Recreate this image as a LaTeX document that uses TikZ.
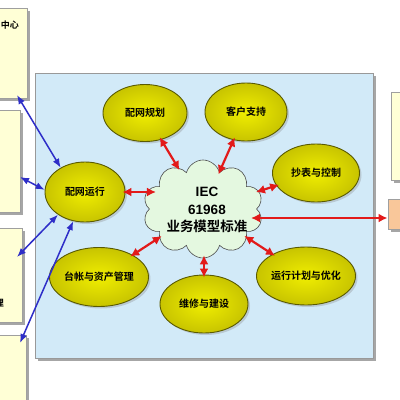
\documentclass[tikz,border=0pt]{standalone}
\usepackage{fontspec}
\setmainfont{Liberation Sans}
\newfontfamily\cjk{Noto Sans CJK SC}[BoldFont={Noto Sans CJK SC Bold}]
\usetikzlibrary{shapes.geometric,shapes.symbols,arrows.meta,shadows,calc}
\definecolor{panelblue}{HTML}{D2EAF8}
\definecolor{boxyellow}{HTML}{FFFFD6}
\definecolor{ellfill}{HTML}{C8C400}
\definecolor{ellin}{HTML}{F0EE00}
\definecolor{ellline}{HTML}{5A5A00}
\definecolor{cloudfill}{HTML}{E4F8E0}
\definecolor{arrred}{HTML}{E21A1A}
\definecolor{arrblue}{HTML}{2E2EC8}
\definecolor{orangebox}{HTML}{F9C79A}
\tikzset{
  ellnode/.style={ellipse, draw=ellline, line width=0.9pt, inner color=ellin, outer color=ellfill,
    drop shadow={shadow xshift=2pt, shadow yshift=-2pt, opacity=0.3},
    font=\cjk\bfseries\fontsize{10}{12}\selectfont, inner sep=0pt},
  sidebox/.style={rectangle, draw=gray!75, line width=1pt, fill=boxyellow,
    drop shadow={shadow xshift=3pt, shadow yshift=-3pt, fill=gray!70, opacity=1}, inner sep=0pt},
  redarr/.style={draw=arrred, line width=2.2pt, {Latex[length=9pt,width=9pt]}-{Latex[length=9pt,width=9pt]},
    shorten <=-3pt, shorten >=-3pt},
  bluearr/.style={draw=arrblue, line width=1.5pt, {Latex[length=9pt,width=7pt]}-{Latex[length=9pt,width=7pt]}},
  lefttext/.style={font=\cjk\bfseries\fontsize{9}{11}\selectfont, anchor=east, inner sep=0pt}
}
\begin{document}
\begin{tikzpicture}[x=1pt,y=-1pt]
\fill[white] (0,0) rectangle (400,400);
\useasboundingbox (0,0) rectangle (400,400);
% panel
\node[rectangle, draw=gray!80, line width=1pt, fill=panelblue,
  drop shadow={shadow xshift=3pt, shadow yshift=-3pt, fill=gray!70, opacity=1},
  minimum width=338pt, minimum height=285pt, inner sep=0pt] (panel) at (204,215.5) {};
% left boxes
\node[sidebox, minimum width=32pt, minimum height=90pt] (b1) at (11,53) {};
\node[sidebox, minimum width=30pt, minimum height=102pt] (b2) at (5,161) {};
\node[sidebox, minimum width=32pt, minimum height=94pt] (b3) at (6,275) {};
\node[sidebox, minimum width=34pt, minimum height=74pt] (b4) at (9,372) {};
\node[lefttext] (l1) at (19,25) {中心};
\node[lefttext] (l3) at (4,303) {管理};
% right boxes
\node[sidebox, minimum width=24pt, minimum height=88pt] (ry) at (403,136) {};
\node[sidebox, fill=orangebox, minimum width=27pt, minimum height=30pt] (org) at (401.5,214) {};
% ellipses
\node[ellnode, minimum width=84pt, minimum height=57pt] (plan) at (145,113) {配网规划};
\node[ellnode, minimum width=82pt, minimum height=58pt] (cust) at (246,112) {客户支持};
\node[ellnode, minimum width=87pt, minimum height=58pt] (meter) at (316,173) {抄表与控制};
\node[ellnode, minimum width=80pt, minimum height=60pt] (ops) at (85,192) {配网运行};
\node[ellnode, minimum width=88pt, minimum height=59pt] (asset) at (99,277) {台帐与资产管理};
\node[ellnode, minimum width=88pt, minimum height=58pt] (rep) at (204,304) {维修与建设};
\node[ellnode, minimum width=88pt, minimum height=58pt] (sched) at (306,276) {运行计划与优化};
% cloud
\node[cloud, cloud puffs=10, aspect=1.25, draw=gray!60!black, fill=cloudfill, line width=0.6pt,
  minimum width=120pt, minimum height=98pt, inner sep=0pt] (std) at (203,209) {};
\node[align=center, font=\bfseries\fontsize{13.5}{17.5}\selectfont, inner sep=0pt] (stdtxt) at (207,210)
  {IEC\\61968\\{\cjk\bfseries 业务模型标准}};
% red arrows
\draw[redarr] (plan) -- (std);
\draw[redarr] (cust) -- (std);
\draw[redarr] (meter) -- (std);
\draw[redarr] (asset) -- (std);
\draw[redarr] (sched) -- (std);
\draw[redarr] (rep.north) -- (rep.north |- std.south);
\coordinate (oe) at ($(ops.east -| std.west)+(4,0)$);
\draw[redarr] (ops.east) -- (oe);
\coordinate (hs) at ($(std.east)+(-3,9)$);
\draw[redarr, shorten >=0pt] (hs) -- (hs -| org.west);
% blue arrows
\coordinate (t1) at (17,95);
\coordinate (t2) at (20,177);
\coordinate (t3) at (17,257);
\coordinate (t4) at (20,343);
\draw[bluearr] (t1) -- (ops.135);
\draw[bluearr] (t2) -- (ops.177);
\draw[bluearr] (t3) -- (ops.220);
\draw[bluearr] (t4) -- (ops.248);
\end{tikzpicture}
\end{document}
